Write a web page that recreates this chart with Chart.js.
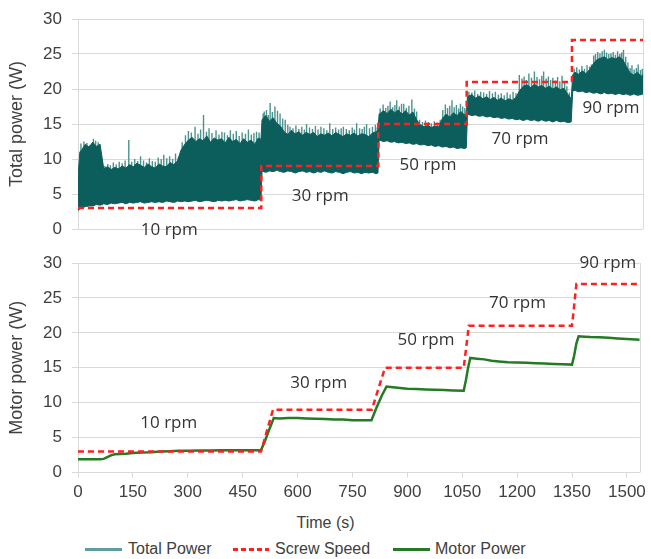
<!DOCTYPE html>
<html><head><meta charset="utf-8">
<script src="https://cdn.jsdelivr.net/npm/chart.js@4"></script>
<style>
html,body{margin:0;padding:0;background:#fff;}
#wrap{position:relative;width:651px;height:559px;overflow:hidden;font-family:"Liberation Sans",Arial,sans-serif;background:#fff;}
canvas{position:absolute;left:0;}
#xtitle{position:absolute;left:0;width:651px;top:513px;text-align:center;font-size:16px;line-height:20px;color:#404040;}
.lt{position:absolute;top:539px;font-size:16px;line-height:20px;color:#404040;white-space:nowrap;}
.ll{position:absolute;top:548px;height:2.5px;}
</style></head>
<body>
<div id="wrap">
<canvas id="c1" width="651" height="245" style="top:0px"></canvas>
<canvas id="c2" width="651" height="265" style="top:245px"></canvas>
<div id="xtitle">Time (s)</div>
<div class="ll" style="left:85px;width:37px;background:#5f9ea0"></div>
<div class="lt" style="left:128px">Total Power</div>
<div class="ll" style="left:233px;width:36px;background:repeating-linear-gradient(90deg,#ff2020 0 5px,transparent 5px 8px)"></div>
<div class="lt" style="left:275px">Screw Speed</div>
<div class="ll" style="left:393px;width:37px;background:#237b23"></div>
<div class="lt" style="left:435px">Motor Power</div>
</div>
<script>
// ---- Total power (top panel): time, lower edge of band, top of dense band ----
const timeTop = [0,5,10,20,30,40,50,60,70,80,90,100,110,120,130,140,150,160,170,180,190,200,210,220,230,240,250,260,270,280,290,300,310,320,330,340,350,360,370,380,390,400,410,420,430,440,450,460,470,480,490,497,
500,510,520,530,540,550,560,570,580,590,600,610,620,630,640,650,660,670,680,690,700,710,720,730,740,750,760,770,780,790,800,810,815,
818,830,840,850,860,870,880,890,900,910,920,930,940,950,960,970,980,990,1000,1010,1020,1030,1040,1050,1055,
1058,1070,1080,1090,1100,1110,1120,1130,1140,1150,1160,1170,1180,1190,1200,1210,1220,1230,1240,1250,1260,1270,1280,1290,1300,1310,1320,1330,1340,
1344,1350,1360,1370,1380,1390,1400,1410,1420,1430,1440,1450,1460,1470,1480,1490,1500,1510,1520,1530,1535];
const totalLow = [2.6,2.9,3.0,3.2,3.3,3.3,3.5,3.4,3.6,3.5,3.7,3.6,3.7,3.8,3.6,3.8,3.7,3.8,3.9,3.7,3.8,3.9,3.8,3.9,3.8,4.0,3.9,3.8,4.0,3.9,4.0,3.9,4.0,4.1,3.9,4.0,4.1,4.0,3.9,4.1,4.0,4.1,4.0,4.1,4.2,4.0,4.1,4.2,4.1,4.0,4.2,4.1,
8.3,8.1,8.3,8.2,8.4,8.2,8.1,8.3,8.2,8.0,8.2,8.3,8.1,8.2,8.0,8.2,8.1,8.3,8.1,8.0,8.2,8.1,7.9,8.1,8.2,8.0,8.1,7.9,8.1,8.0,8.1,7.9,8.0,
12.7,12.5,12.6,12.4,12.5,12.3,12.4,12.2,12.3,12.1,12.2,12.0,12.1,11.9,12.0,11.8,11.9,11.7,11.8,11.6,11.7,11.5,11.6,11.5,11.6,
16.4,16.2,16.3,16.1,16.2,16.0,16.1,15.9,16.0,15.8,15.9,15.7,15.8,15.6,15.7,15.5,15.7,15.5,15.6,15.4,15.6,15.4,15.5,15.3,15.5,15.3,15.4,15.2,15.3,
19.7,19.8,19.6,19.7,19.5,19.6,19.4,19.5,19.3,19.5,19.3,19.4,19.2,19.4,19.2,19.3,19.1,19.3,19.1,19.2,19.3];
const totalCore = [7.5,11.0,11.3,12.1,11.7,12.4,11.8,12.1,8.6,8.9,8.5,8.8,8.6,9.0,8.7,9.2,8.9,9.4,9.1,8.8,9.3,8.9,8.7,9.3,9.0,8.9,9.5,9.2,9.7,11.3,12.1,12.7,13.1,12.5,12.9,12.6,13.3,12.4,13.0,12.7,12.9,12.3,13.1,12.5,12.8,12.2,12.9,12.4,12.7,12.1,13.0,12.8,
15.6,16.2,15.4,15.9,15.1,14.7,13.9,13.5,14.1,13.6,13.9,13.4,13.8,13.5,13.8,13.2,13.6,13.4,13.7,13.3,13.8,13.5,13.2,13.6,13.4,13.7,13.3,13.6,13.5,13.2,13.7,13.9,14.1,
16.4,16.9,16.5,17.1,16.6,17.0,16.4,16.9,16.3,16.7,15.6,14.9,14.6,14.8,14.5,14.7,14.6,15.8,16.4,16.0,16.6,16.2,16.8,16.3,16.5,
18.9,19.2,18.7,19.0,18.6,18.9,18.5,18.8,18.4,18.7,18.3,18.6,18.4,18.8,19.8,20.4,20.6,20.2,20.7,20.3,20.5,20.1,20.4,20.0,20.3,19.9,20.1,19.3,18.6,
22.0,22.4,22.1,22.6,22.2,22.8,23.6,24.2,24.4,24.6,24.2,24.5,24.3,24.6,24.2,23.2,22.3,22.0,22.4,21.8,22.1];
// thin spikes rising above the dense band (time, peak)
const spikeTime = [8,16,24,33,42,48,55,65,73,81,88,96,104,112,120,128,138,146,154,162,170,178,186,194,202,210,218,226,233,241,249,257,265,273,283,292,300,308,318,326,333,341,349,356,364,375,383,391,398,406,414,422,430,438,446,455,463,471,478,485,492,
503,506,512,517,522,528,535,542,549,556,563,570,576,584,592,600,608,615,621,629,637,645,652,660,668,676,684,692,700,708,715,721,729,737,745,751,757,765,772,778,784,792,800,808,813,
821,829,836,842,848,855,861,866,873,879,885,892,899,907,914,920,928,936,944,952,960,968,976,984,991,998,1004,1010,1016,1022,1028,1034,1039,1045,1051,
1062,1070,1078,1086,1094,1102,1110,1118,1126,1134,1142,1150,1158,1166,1174,1182,1190,1199,1206,1212,1218,1225,1232,1240,1247,1254,1260,1265,1272,1278,1284,1290,1297,1303,1309,1315,1322,1328,1335,
1348,1355,1362,1369,1376,1383,1390,1395,1401,1406,1412,1418,1424,1430,1436,1442,1448,1454,1460,1466,1472,1477,1482,1488,1494,1500,1505,1511,1517,1522,1528,1533];
const spikePeak = [12.2,12.5,12.3,12.0,12.9,12.6,12.4,8.9,9.0,9.3,9.1,9.5,9.2,9.6,9.4,9.8,12.7,9.6,10.0,9.7,10.4,9.8,9.5,10.1,9.7,9.6,10.2,10.0,10.6,10.1,10.4,10.0,10.8,10.3,12.4,13.4,14.0,13.8,14.6,13.6,14.2,16.3,13.9,14.4,13.7,14.1,13.5,13.9,13.8,13.4,14.1,13.6,14.0,13.3,13.8,13.6,14.2,13.5,13.7,13.9,13.8,
16.5,16.8,17.0,16.3,18.0,16.7,17.5,16.9,16.5,15.8,15.6,14.9,14.6,14.4,14.8,14.3,14.6,14.2,15.0,14.5,14.3,14.7,14.2,14.6,14.4,14.1,15.1,14.3,14.5,14.2,14.4,14.6,14.3,14.1,14.5,14.2,15.1,14.4,14.3,14.6,15.0,14.4,14.6,14.9,14.5,
17.2,17.8,17.3,17.6,18.2,17.4,17.7,18.4,17.5,17.9,17.9,17.3,17.6,18.5,17.2,16.8,15.6,15.3,15.5,15.3,15.1,15.4,15.2,15.6,17.0,17.8,17.3,17.6,18.4,17.4,17.7,17.2,17.9,17.5,17.3,
19.6,19.5,19.8,19.3,19.6,19.5,19.3,19.7,19.4,19.6,19.2,19.4,19.1,19.5,19.2,19.6,19.4,22.0,21.5,21.8,21.3,22.2,21.6,22.5,21.7,21.4,21.9,22.5,21.5,21.8,21.3,21.6,21.2,21.7,21.1,21.9,21.0,20.4,19.5,
22.9,23.1,22.8,23.3,22.9,23.4,23.2,23.5,24.8,25.0,25.3,25.1,25.4,25.6,25.2,25.0,25.1,25.3,24.9,25.4,25.0,25.2,25.6,24.6,23.8,23.0,23.4,22.8,23.0,23.5,22.7,22.9];
// ---- Screw speed ----
const speedTopTime = [0,498,498,816,816,1056,1056,1342,1342,1535];
const speedTopValue = [3,3,9,9,15,15,21,21,27,27];
const speedBottomTime = [0,500,533,803,839,1054,1068,1350,1362,1535];
const speedBottomValue = [3,3,9,9,15,15,21,21,27,27];
// ---- Motor power ----
const motorTime = [0,30,60,70,80,90,100,115,130,150,175,200,225,250,275,300,330,360,390,420,450,480,500,510,520,535,550,575,600,625,650,675,700,725,750,775,802,815,830,843,860,880,900,925,950,975,1000,1025,1054,1060,1066,1072,1090,1110,1130,1150,1175,1200,1225,1250,1275,1300,1325,1350,1356,1362,1368,1385,1400,1425,1450,1475,1500,1535];
const motorValue = [1.9,1.9,1.9,1.95,2.2,2.45,2.6,2.65,2.7,2.8,2.85,2.9,3.0,3.05,3.1,3.1,3.15,3.15,3.2,3.2,3.2,3.2,3.2,4.4,5.8,7.8,7.75,7.8,7.8,7.75,7.7,7.65,7.6,7.6,7.5,7.5,7.5,9.2,11.0,12.3,12.2,12.1,12.0,11.95,11.9,11.85,11.8,11.75,11.7,13.2,15.0,16.4,16.3,16.2,16.0,15.9,15.8,15.75,15.7,15.65,15.6,15.55,15.5,15.45,16.8,18.5,19.5,19.45,19.4,19.35,19.3,19.2,19.1,19.0];
// ---- ticks & annotations ----
const yTicks = [0,5,10,15,20,25,30];
const xTicks = [0,150,300,450,600,750,900,1050,1200,1350,1500];
const rpmLabels = ['10 rpm','30 rpm','50 rpm','70 rpm','90 rpm'];
const rpmTime = [248,658,951,1201,1448];
const rpmTopValue = [-0.2,4.7,9.1,12.8,17.3];
const rpmBottomValue = [7.1,12.8,19.0,24.3,30.0];

Chart.defaults.font.family = '"Liberation Sans", Arial, sans-serif';
const pts = (xs, ys) => xs.map((x, i) => ({x: x, y: ys[i]}));
function lowAt(t) { let best = 0; timeTop.forEach((tt, i) => { if (Math.abs(tt - t) < Math.abs(timeTop[best] - t)) best = i; }); return totalLow[best]; }
const spikePts = [];
spikeTime.forEach((t, i) => { spikePts.push({x: t, y: lowAt(t)}, {x: t, y: spikePeak[i]}, {x: t, y: null}); });

const GRID = '#d9d9d9', TXT = '#404040';
const frame = {id: 'frame', beforeDatasetsDraw(chart) {
  const {ctx, chartArea: a} = chart; ctx.save(); ctx.strokeStyle = GRID; ctx.lineWidth = 1;
  const xr = Math.round(a.right) + 0.5; ctx.beginPath(); ctx.moveTo(xr, a.top); ctx.lineTo(xr, a.bottom); ctx.stroke(); ctx.restore(); }};
function rpmPlugin(values) { return {id: 'rpm', afterDatasetsDraw(chart) {
  const {ctx, scales: {x, y}} = chart; ctx.save(); ctx.font = '17px "Open Sans"'; ctx.fillStyle = '#333';
  ctx.textAlign = 'center'; ctx.textBaseline = 'middle';
  rpmLabels.forEach((s, i) => ctx.fillText(s, x.getPixelForValue(rpmTime[i]), y.getPixelForValue(values[i])));
  ctx.restore(); }}; }
function yScale(title) { return {type: 'linear', min: 0, max: 30,
  afterBuildTicks(s) { s.ticks = yTicks.map(v => ({value: v})); },
  afterFit(s) { s.width = 78; s.paddingTop = 0; s.paddingBottom = 0; },
  ticks: {font: {size: 17}, color: TXT, padding: 10},
  grid: {color: GRID, tickLength: 6, lineWidth: 1}, border: {color: GRID},
  title: {display: true, text: title, font: {size: 18}, color: TXT, padding: {top: 6, bottom: 0}}}; }
const common = {responsive: false, animation: false, devicePixelRatio: 1,
  plugins: {legend: {display: false}, tooltip: {enabled: false}}};

new Chart(document.getElementById('c1'), {type: 'line', data: {datasets: [
  {label: 'low', data: pts(timeTop, totalLow), borderColor: '#0b5e5b', borderWidth: 1, pointRadius: 0, fill: false, order: 2},
  {label: 'Total Power', data: pts(timeTop, totalCore), borderColor: '#0b5e5b', borderWidth: 1, backgroundColor: '#0b5e5b', pointRadius: 0, fill: '-1', order: 2},
  {label: 'spikes', data: spikePts, borderColor: '#4a928e', borderWidth: 1.4, pointRadius: 0, spanGaps: false, order: 3},
  {label: 'Screw Speed', data: pts(speedTopTime, speedTopValue), borderColor: '#ff2020', borderWidth: 2.5, borderDash: [6, 4], pointRadius: 0, order: 0}
]}, options: Object.assign({}, common, {layout: {padding: {top: 19, right: 8, bottom: 16, left: 0}},
  scales: {x: {type: 'linear', min: 0, max: 1535, display: false}, y: yScale('Total power (W)')}}),
  plugins: [frame, rpmPlugin(rpmTopValue)]});

new Chart(document.getElementById('c2'), {type: 'line', data: {datasets: [
  {label: 'Screw Speed', data: pts(speedBottomTime, speedBottomValue), borderColor: '#ff2020', borderWidth: 2.5, borderDash: [6, 4], pointRadius: 0, order: 0},
  {label: 'Motor Power', data: pts(motorTime, motorValue), borderColor: '#237b23', borderWidth: 2.5, pointRadius: 0, order: 1}
]}, options: Object.assign({}, common, {layout: {padding: {top: 18, right: 8, bottom: 0, left: 0}},
  scales: {x: {type: 'linear', min: 0, max: 1535,
    afterBuildTicks(s) { s.ticks = xTicks.map(v => ({value: v})); }, afterFit(s) { s.height = 37.5; },
    ticks: {font: {size: 17}, color: TXT, padding: 5, maxRotation: 0, autoSkip: false, callback: v => String(v)},
    grid: {drawOnChartArea: false, color: GRID, tickLength: 5}, border: {color: GRID}},
    y: yScale('Motor power (W)')}}),
  plugins: [frame, rpmPlugin(rpmBottomValue)]});
</script>
</body></html>
